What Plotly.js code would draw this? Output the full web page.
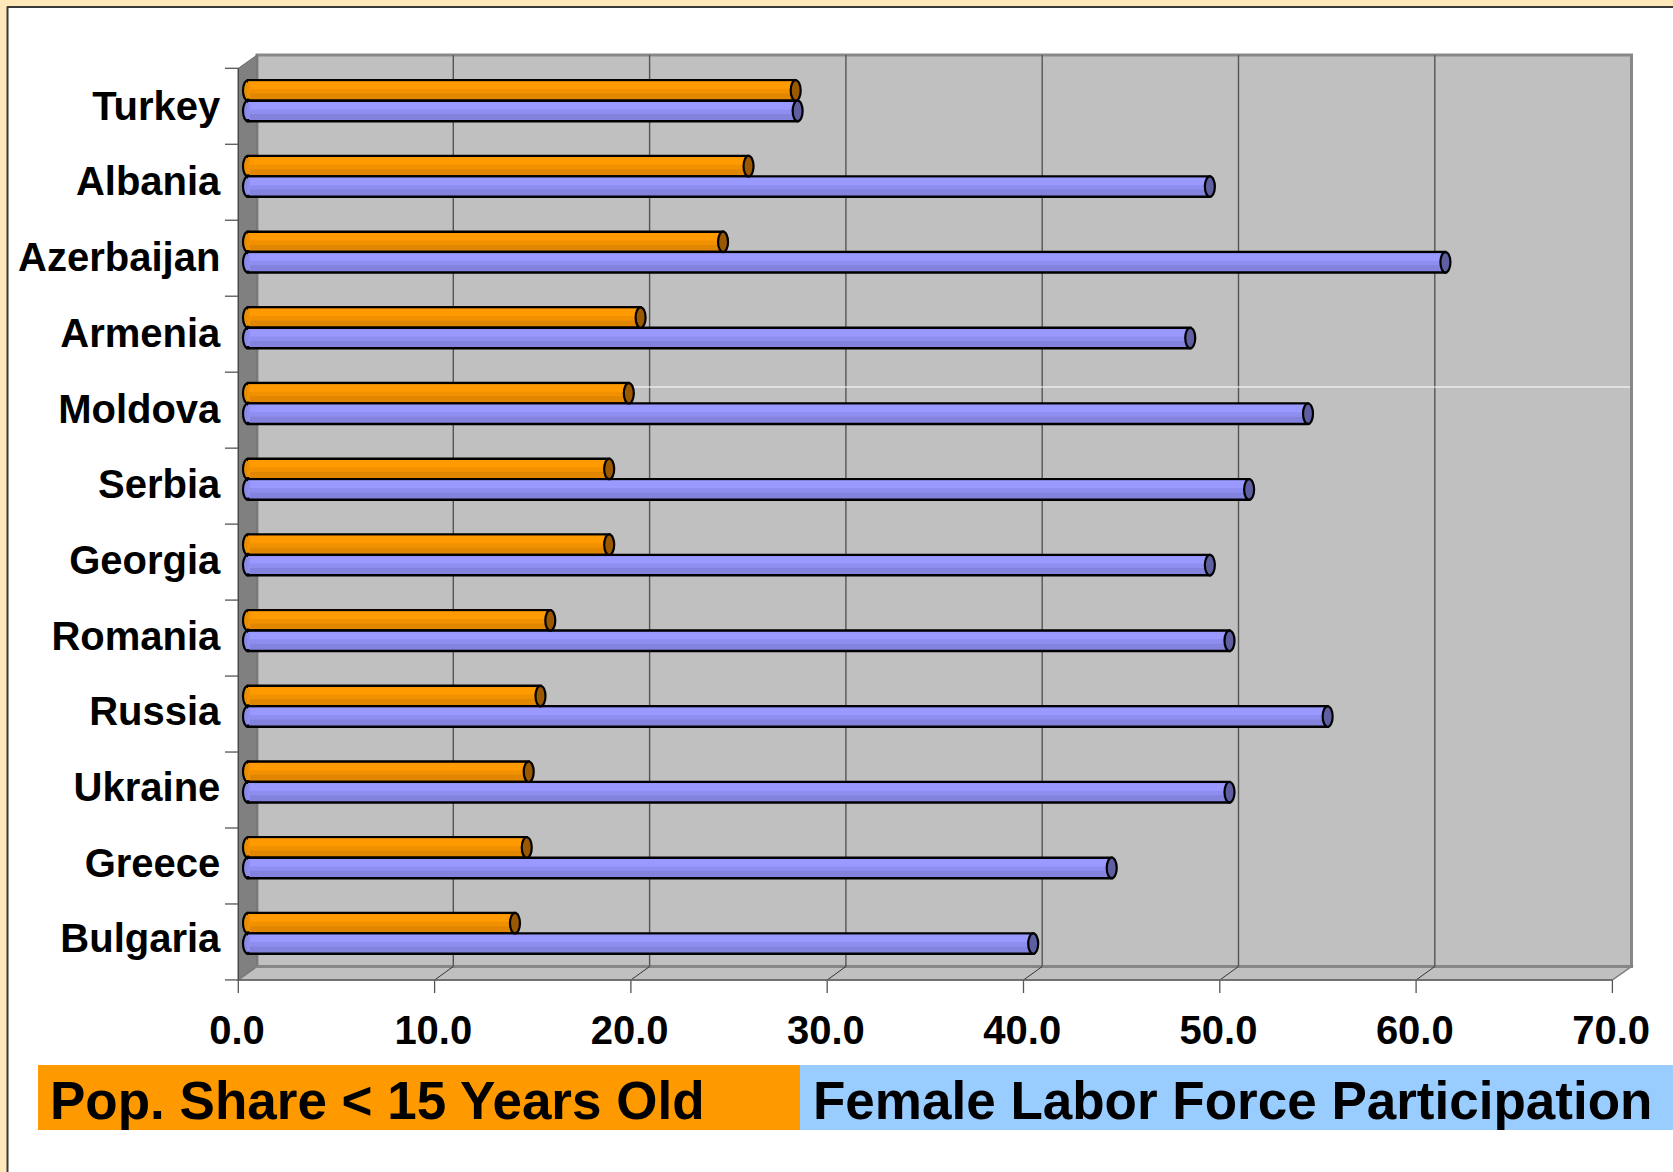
<!DOCTYPE html>
<html><head><meta charset="utf-8">
<script src="https://cdn.plot.ly/plotly-3.0.1.min.js"></script>
<style>html,body{margin:0;padding:0;background:#fff;}</style>
</head><body><div id="chart" style="width:1673px;height:1172px;"></div>
<script>
// ---------------- data ----------------
const countries = ['Turkey','Albania','Azerbaijan','Armenia','Moldova','Serbia','Georgia','Romania','Russia','Ukraine','Greece','Bulgaria'];
const popUnder15 = [27.9, 25.5, 24.2, 20.0, 19.4, 18.4, 18.4, 15.4, 14.9, 14.3, 14.2, 13.6];
const femaleLFP  = [28.0, 49.0, 61.0, 48.0, 54.0, 51.0, 49.0, 50.0, 55.0, 50.0, 44.0, 40.0];
const xTicks = [0, 10, 20, 30, 40, 50, 60, 70];
const seriesNames = ['Pop. Share < 15 Years Old', 'Female Labor Force Participation'];

// ---------------- geometry / styles ----------------
const W = 1673, H = 1172;
const X = p => p / W, Y = p => 1 - p / H;
const ZERO = 248, PPU = 19.63;          // bar plane: value 0 at px 248
const FRONT = -9.7, BACK = 9;           // pixel offsets of front/back planes
const CAT0 = 100.7, CATPX = 75.7;       // bar-plane centre of first category, spacing
const XD0 = 228.37, XD1 = 1650, YD0 = 45, YD1 = 1000;
const F_TOP = 68.3, F_BOT = 980, F_LEFT = 238.3, F_RIGHT = 1612.3, F_STEP = 75.97;
const B_TOP = 55, B_BOT = 966.5, B_LEFT = 257, B_RIGHT = 1631.5;
const BW = 0.27;
const FONT = '"Liberation Sans", Arial, Helvetica, sans-serif';

const orange = {base:'#E08600', mid:'#F29100', top:'#FF9A00', cap:'#9A5800'};
const blue   = {base:'#8383DE', mid:'#8E8EF0', top:'#9999FF', cap:'#5E5EA0'};

function barTrace(vals, color, off, w, line) {
  return {type:'bar', orientation:'h', y:countries, x:vals, width:w, offset:off,
    marker:{color:color, line: line ? {color:'#000', width:2.5} : {width:0}},
    hoverinfo:'skip'};
}
const traces = [
  barTrace(popUnder15, orange.base, -BW, BW, true),
  barTrace(popUnder15, orange.mid, -BW + 0.018, BW * 0.58, false),
  barTrace(popUnder15, orange.top, -BW + 0.018, BW * 0.36, false),
  barTrace(femaleLFP, blue.base, 0, BW, true),
  barTrace(femaleLFP, blue.mid, 0.018, BW * 0.58, false),
  barTrace(femaleLFP, blue.top, 0.018, BW * 0.36, false)
];

const shapes = [];
const bgLine = (x0,y0,x1,y1,color,width) => shapes.push({type:'line', xref:'paper', yref:'paper',
  x0:X(x0), y0:Y(y0), x1:X(x1), y1:Y(y1), line:{color:color, width:width}, layer:'below'});

// outer frame
shapes.push({type:'rect', xref:'paper', yref:'paper', x0:0, x1:1, y0:Y(6.5), y1:1, fillcolor:'#FFE8B9', line:{width:0}, layer:'below'});
shapes.push({type:'rect', xref:'paper', yref:'paper', x0:0, x1:X(7), y0:0, y1:1, fillcolor:'#FFE8B9', line:{width:0}, layer:'below'});
bgLine(7, 7, W, 7, '#3a3a3a', 2);
bgLine(7.5, 6.5, 7.5, H, '#3a3a3a', 2);

// back wall
shapes.push({type:'rect', xref:'paper', yref:'paper', x0:X(B_LEFT), x1:X(B_RIGHT), y0:Y(B_BOT), y1:Y(B_TOP),
  fillcolor:'#C0C0C0', line:{color:'#878787', width:3}, layer:'below'});
// side wall
shapes.push({type:'path', xref:'paper', yref:'paper',
  path:`M ${X(F_LEFT)},${Y(F_TOP)} L ${X(B_LEFT)},${Y(B_TOP)} L ${X(B_LEFT)},${Y(B_BOT)} L ${X(F_LEFT)},${Y(F_BOT)} Z`,
  fillcolor:'#808080', line:{color:'#6e6e6e', width:1}, layer:'below'});
// floor
shapes.push({type:'path', xref:'paper', yref:'paper',
  path:`M ${X(F_LEFT)},${Y(F_BOT)} L ${X(B_LEFT)},${Y(B_BOT)} L ${X(B_RIGHT)},${Y(B_BOT)} L ${X(F_RIGHT)},${Y(F_BOT)} Z`,
  fillcolor:'#C0C0C0', line:{color:'#7a7a7a', width:1.5}, layer:'below'});
bgLine(B_LEFT, B_BOT, B_RIGHT, B_BOT, '#868686', 3);

// back-wall gridlines and floor diagonals, from the tick values
xTicks.forEach(v => {
  if (v > 0 && v < 70) {
    shapes.push({type:'line', xref:'x', yref:'paper', xsizemode:'pixel', xanchor:v, x0:BACK, x1:BACK,
      y0:Y(B_BOT), y1:Y(B_TOP), line:{color:'#555', width:1.4}, layer:'below'});
    shapes.push({type:'line', xref:'x', yref:'paper', xsizemode:'pixel', xanchor:v, x0:FRONT, x1:BACK,
      y0:Y(F_BOT), y1:Y(B_BOT), line:{color:'#333', width:1}, layer:'below'});
  }
  shapes.push({type:'line', xref:'x', yref:'paper', xsizemode:'pixel', xanchor:v, x0:FRONT, x1:FRONT,
    y0:Y(F_BOT), y1:Y(993), line:{color:'#555', width:1.3}, layer:'below'});
});
// stray white line visible in the original
bgLine(B_LEFT, 387, B_RIGHT - 1.5, 387, '#ffffff', 1.2);
// front edges
bgLine(F_LEFT, F_TOP, F_LEFT, F_BOT, '#444', 1.3);
bgLine(F_LEFT, F_BOT, F_RIGHT, F_BOT, '#666', 1.5);
for (let k = 0; k <= countries.length; k++) bgLine(225, F_TOP + k * F_STEP, F_LEFT, F_TOP + k * F_STEP, '#555', 1.3);

// bar end caps (left rounded end, right end face)
countries.forEach((c, i) => {
  [[popUnder15[i], i - BW, i, orange], [femaleLFP[i], i, i + BW, blue]].forEach(([v, y0, y1, col]) => {
    shapes.push({type:'circle', xref:'x', yref:'y', xsizemode:'pixel', xanchor:0, x0:-5, x1:5, y0:y0, y1:y1,
      fillcolor:col.mid, line:{color:'#000', width:2.2}, layer:'below'});
    shapes.push({type:'rect', xref:'x', yref:'y', xsizemode:'pixel', xanchor:0, x0:-1.8, x1:2, y0:y0 + 0.028, y1:y1 - 0.028,
      fillcolor:col.mid, line:{width:0}, layer:'above'});
    shapes.push({type:'circle', xref:'x', yref:'y', xsizemode:'pixel', xanchor:v, x0:-5, x1:5, y0:y0, y1:y1,
      fillcolor:col.cap, line:{color:'#000', width:2.2}, layer:'above'});
  });
});

// legend bands
shapes.push({type:'rect', xref:'paper', yref:'paper', x0:X(38), x1:X(800), y0:Y(1130), y1:Y(1065), fillcolor:'#FF9900', line:{width:0}, layer:'below'});
shapes.push({type:'rect', xref:'paper', yref:'paper', x0:X(800), x1:1, y0:Y(1130), y1:Y(1065), fillcolor:'#99CCFF', line:{width:0}, layer:'below'});

const legendFont = {family:FONT, size:53, color:'#000', weight:'bold'};
const annotations = [
  {xref:'paper', yref:'paper', x:X(48), y:Y(1100), xanchor:'left', yanchor:'middle', text:seriesNames[0], showarrow:false, font:legendFont},
  {xref:'paper', yref:'paper', x:X(811), y:Y(1100), xanchor:'left', yanchor:'middle', text:seriesNames[1], showarrow:false, font:legendFont}
];

const layout = {
  width:W, height:H, autosize:false,
  margin:{l:0, r:0, t:0, b:0, pad:0},
  paper_bgcolor:'#ffffff', plot_bgcolor:'rgba(0,0,0,0)',
  showlegend:false, barmode:'overlay',
  xaxis:{domain:[X(XD0), X(XD1)], range:[(XD0 - ZERO) / PPU, (XD1 - ZERO) / PPU],
    tickvals:xTicks, tickformat:'.1f', ticks:'', showgrid:false, zeroline:false, showline:false,
    ticklabelshift:-11, ticklabelstandoff:3,
    tickfont:{family:FONT, size:40, color:'#000', weight:'bold'}, fixedrange:true},
  yaxis:{domain:[Y(YD1), Y(YD0)], type:'category',
    range:[(YD1 - CAT0) / CATPX, (YD0 - CAT0) / CATPX],
    ticks:'', showgrid:false, zeroline:false, showline:false,
    ticklabelstandoff:7, ticklabelshift:-5,
    tickfont:{family:FONT, size:40, color:'#000', weight:'bold'}, fixedrange:true},
  shapes:shapes, annotations:annotations
};

Plotly.newPlot('chart', traces, layout, {displayModeBar:false, staticPlot:true});
</script>
</body></html>
